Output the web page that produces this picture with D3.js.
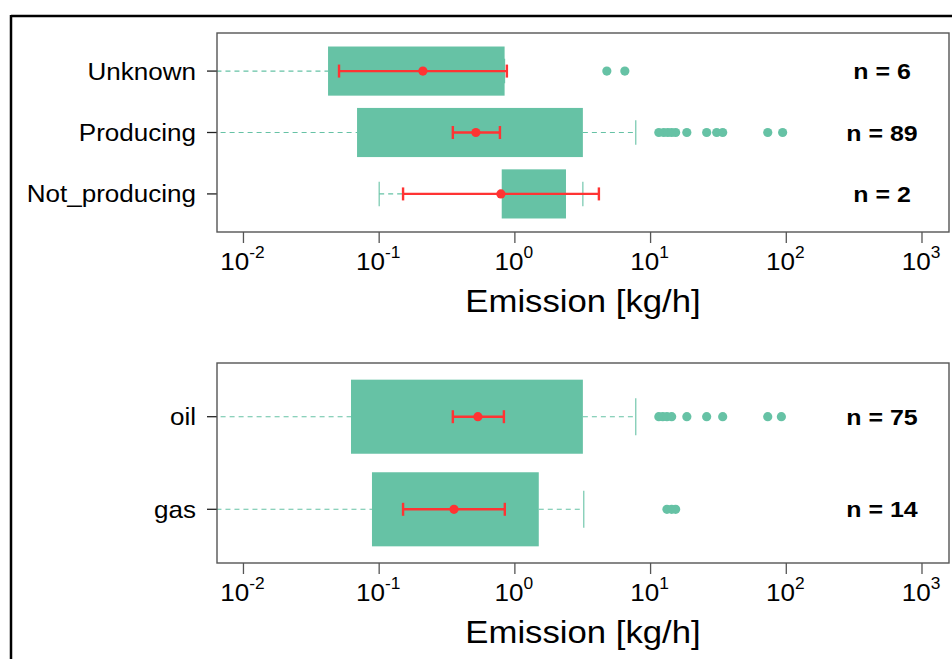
<!DOCTYPE html>
<html>
<head>
<meta charset="utf-8">
<script src="https://cdn.jsdelivr.net/npm/d3@7"></script>
<style>
  html, body { margin: 0; padding: 0; background: #fff; }
  svg { display: block; font-family: "Liberation Sans", Arial, Helvetica, sans-serif; }
</style>
</head>
<body>
<svg id="chart" width="952" height="659"></svg>
<script>
// ---------- DATA ----------
const topCategories = ["Not_producing", "Producing", "Unknown"];
const topQ1 = [0.80, 0.0687, 0.042];
const topQ3 = [2.38, 3.17, 0.84];
const topWhiskLo = [0.10, 0.002, 0.004];
const topWhiskHi = [3.17, 7.78, 0.84];
const topMean = [0.789, 0.516, 0.21];
const topCiLo = [0.15, 0.349, 0.0506];
const topCiHi = [4.16, 0.776, 0.873];
const topOutliers = [
  [],
  [11.5, 12.5, 13.4, 14.3, 15.3, 18.5, 25.9, 30.7, 34.0, 73.0, 94.0],
  [4.76, 6.46]
];
const topN = [2, 89, 6];

const botCategories = ["gas", "oil"];
const botQ1 = [0.0885, 0.062];
const botQ3 = [1.50, 3.17];
const botWhiskLo = [0.004, 0.002];
const botWhiskHi = [3.22, 7.78];
const botMean = [0.356, 0.534];
const botCiLo = [0.15, 0.349];
const botCiHi = [0.843, 0.83];
const botOutliers = [
  [13.2, 14.3, 15.3],
  [11.5, 12.3, 13.2, 14.3, 18.5, 25.9, 34.0, 73.0, 92.0]
];
const botN = [14, 75];

const tickExponents = [-2, -1, 0, 1, 2, 3];
const axisTitle = "Emission [kg/h]";

// ---------- STYLE ----------
const boxColor = "#66C2A5";
const redColor = "#FF3333";
const SX = 1.085; // horizontal text stretch seen in reference

const svg = d3.select("#chart");

// outer frame
svg.append("line").attr("x1", 11).attr("x2", 952).attr("y1", 16).attr("y2", 16)
  .attr("stroke", "#000").attr("stroke-width", 2.5);
svg.append("line").attr("x1", 11).attr("x2", 11).attr("y1", 15).attr("y2", 659)
  .attr("stroke", "#000").attr("stroke-width", 2.5);

const x = d3.scaleLog()
  .domain([Math.pow(10, -2.195), Math.pow(10, 3.199)])
  .range([217, 949]);

function stretchedText(g, px, py) {
  return g.append("text").attr("transform", `translate(${px},${py}) scale(${SX},1)`);
}

function drawPanel(cfg) {
  const {top, bottom, cats, q1, q3, wlo, whi, mean, cilo, cihi, outs, ns, id} = cfg;
  const k = cats.length;
  const pad = 0.04 * k;
  const y = d3.scaleLinear().domain([0.5 - pad, k + 0.5 + pad]).range([bottom, top]);
  const unit = Math.abs(y(1) - y(0));
  const g = svg.append("g");

  g.append("clipPath").attr("id", id).append("rect")
    .attr("x", x.range()[0]).attr("y", top)
    .attr("width", x.range()[1] - x.range()[0]).attr("height", bottom - top);

  const plot = g.append("g").attr("clip-path", `url(#${id})`);

  cats.forEach((c, i) => {
    const pos = i + 1;
    const cy = y(pos);
    // whiskers (dashed)
    plot.append("line").attr("x1", x(wlo[i])).attr("x2", x(q1[i]))
      .attr("y1", cy).attr("y2", cy)
      .attr("stroke", boxColor).attr("stroke-width", 1.1).attr("stroke-dasharray", "5,4");
    plot.append("line").attr("x1", x(q3[i])).attr("x2", x(whi[i]))
      .attr("y1", cy).attr("y2", cy)
      .attr("stroke", boxColor).attr("stroke-width", 1.1).attr("stroke-dasharray", "5,4");
    // caps
    [wlo[i], whi[i]].forEach(v => {
      plot.append("line").attr("x1", x(v)).attr("x2", x(v))
        .attr("y1", cy - 0.2 * unit).attr("y2", cy + 0.2 * unit)
        .attr("stroke", boxColor).attr("stroke-width", 1.1);
    });
    // box
    plot.append("rect")
      .attr("x", x(q1[i])).attr("width", x(q3[i]) - x(q1[i]))
      .attr("y", cy - 0.4 * unit).attr("height", 0.8 * unit)
      .attr("fill", boxColor);
    // outliers
    plot.selectAll(null).data(outs[i]).enter().append("circle")
      .attr("cx", d => x(d)).attr("cy", cy).attr("r", 4.6)
      .attr("fill", boxColor);
    // mean & CI
    plot.append("line").attr("x1", x(cilo[i])).attr("x2", x(cihi[i]))
      .attr("y1", cy).attr("y2", cy)
      .attr("stroke", redColor).attr("stroke-width", 2.4);
    [cilo[i], cihi[i]].forEach(v => {
      plot.append("line").attr("x1", x(v)).attr("x2", x(v))
        .attr("y1", cy - 6.5).attr("y2", cy + 6.5)
        .attr("stroke", redColor).attr("stroke-width", 2.4);
    });
    plot.append("circle").attr("cx", x(mean[i])).attr("cy", cy).attr("r", 4.6)
      .attr("fill", redColor);

    // n label
    stretchedText(g, 882, cy + 8)
      .attr("text-anchor", "middle").attr("font-size", 23).attr("font-weight", "bold")
      .attr("fill", "#000").text(`n = ${ns[i]}`);

    // y tick + label
    g.append("line").attr("x1", 207).attr("x2", 217).attr("y1", cy).attr("y2", cy)
      .attr("stroke", "#222").attr("stroke-width", 1.3);
    stretchedText(g, 196, cy + 8.5)
      .attr("text-anchor", "end").attr("font-size", 24).attr("fill", "#000").text(c);
  });

  // panel border
  g.append("rect")
    .attr("x", x.range()[0]).attr("y", top)
    .attr("width", x.range()[1] - x.range()[0]).attr("height", bottom - top)
    .attr("fill", "none").attr("stroke", "#555").attr("stroke-width", 1.4);

  // x ticks
  tickExponents.forEach(e => {
    const tx = x(Math.pow(10, e));
    g.append("line").attr("x1", tx).attr("x2", tx).attr("y1", bottom).attr("y2", bottom + 11)
      .attr("stroke", "#555").attr("stroke-width", 1.3);
    const t = stretchedText(g, tx - 1, bottom + 38)
      .attr("text-anchor", "middle").attr("font-size", 24).attr("fill", "#000");
    t.append("tspan").text("10");
    t.append("tspan").attr("dy", -12).attr("font-size", 16).text(String(e).replace("-", "-"));
  });

  // axis title
  stretchedText(g, (x.range()[0] + x.range()[1]) / 2, bottom + 80)
    .attr("text-anchor", "middle").attr("font-size", 32).attr("fill", "#000").text(axisTitle);
}

drawPanel({
  id: "clipTop", top: 33, bottom: 232,
  cats: topCategories, q1: topQ1, q3: topQ3, wlo: topWhiskLo, whi: topWhiskHi,
  mean: topMean, cilo: topCiLo, cihi: topCiHi, outs: topOutliers, ns: topN
});
drawPanel({
  id: "clipBot", top: 363, bottom: 563,
  cats: botCategories, q1: botQ1, q3: botQ3, wlo: botWhiskLo, whi: botWhiskHi,
  mean: botMean, cilo: botCiLo, cihi: botCiHi, outs: botOutliers, ns: botN
});
</script>
</body>
</html>
